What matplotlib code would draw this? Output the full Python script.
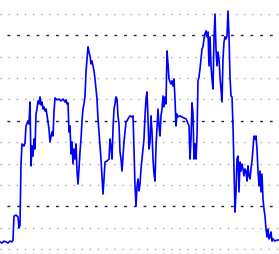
import numpy as np
import matplotlib
matplotlib.use("Agg")
import matplotlib.pyplot as plt

# sample positions and values (one unit = one grid step)
xs = [0, 2, 4, 6, 8, 10, 12, 13, 14, 16, 18, 19, 20, 21, 22, 24, 25, 26, 28, 29,
      30, 31, 32, 33, 34, 35, 36, 37, 38, 39, 40, 41, 42, 43, 44, 45, 46, 47, 48, 49,
      50, 51, 52, 53, 54, 55, 57, 59, 61, 63, 65, 66, 67, 68, 69, 70, 71, 72, 73, 74,
      75, 76, 77, 78, 79, 80, 81, 82, 83, 84, 85, 86, 87, 88, 89, 90, 91, 92, 93, 94,
      95, 96, 97, 98, 99, 100, 101, 102, 103, 104, 105, 107, 109, 110, 111, 112, 113, 114, 115, 116,
      117, 118, 119, 120, 121, 122, 123, 124, 125, 126, 127, 128, 130, 132, 133, 134, 135, 136, 137, 138,
      139, 140, 141, 142, 143, 144, 145, 146, 147, 148, 149, 150, 151, 152, 153, 154, 155, 156, 157, 158,
      159, 160, 161, 162, 163, 164, 165, 166, 167, 168, 169, 170, 171, 172, 173, 174, 175, 176, 177, 178,
      180, 182, 184, 186, 187, 189, 190, 191, 192, 193, 194, 195, 196, 197, 198, 199, 200, 201, 202, 203,
      204, 205, 206, 207, 208, 209, 210, 211, 212, 213, 214, 215, 216, 217, 218, 219, 220, 221, 222, 223,
      224, 225, 226, 227, 228, 229, 230, 231, 232, 233, 234, 235, 236, 237, 238, 239, 240, 241, 242, 243,
      244, 245, 246, 247, 248, 249, 250, 251, 252, 253, 254, 255, 256, 257, 258, 259, 260, 261, 262, 263,
      264, 265, 266, 267, 268, 269, 270, 271, 272, 273, 275, 277, 279]
vals = [0.33, 0.28, 0.37, 0.33, 0.28, 0.37, 0.33, 0.42, 1.54, 1.59, 1.50, 0.98, 1.12, 3.98, 4.92, 4.82, 4.96, 5.76, 5.99, 5.85,
        6.88, 3.89, 4.82, 4.35, 5.15, 4.68, 6.32, 6.55, 6.93, 6.79, 7.12, 6.74, 6.88, 6.55, 6.65, 6.46, 6.55, 6.27, 5.95, 5.62,
        5.01, 5.24, 5.48, 5.29, 6.41, 7.07, 6.98, 7.02, 6.93, 7.02, 6.88, 6.98, 6.79, 6.84, 5.48, 5.76, 4.45, 5.01, 3.98, 4.68,
        4.21, 4.92, 3.65, 3.04, 3.75, 4.54, 5.15, 5.99, 6.55, 6.79, 7.16, 8.29, 8.90, 9.46, 9.22, 9.04, 8.66, 8.80, 8.57, 8.33,
        7.96, 7.49, 7.02, 6.09, 5.48, 4.82, 4.21, 3.42, 2.57, 3.28, 4.07, 4.12, 4.21, 5.15, 4.78, 4.21, 5.62, 6.55, 6.79, 7.12,
        7.02, 6.23, 5.85, 4.54, 4.21, 3.65, 4.35, 5.01, 5.48, 5.95, 5.99, 6.09, 6.23, 6.18, 6.23, 4.68, 2.95, 2.01, 2.90, 3.28,
        2.72, 3.04, 3.75, 4.21, 4.68, 5.15, 6.23, 7.02, 7.35, 6.09, 4.68, 5.01, 6.23, 5.48, 4.21, 3.51, 3.18, 4.78, 5.71, 6.55,
        5.76, 5.29, 6.23, 6.55, 7.16, 6.65, 7.12, 6.79, 9.27, 8.66, 7.96, 7.82, 7.72, 7.87, 7.63, 7.96, 7.02, 5.76, 6.32, 6.18,
        6.23, 6.18, 6.13, 6.09, 5.99, 5.76, 4.21, 5.15, 6.84, 6.32, 4.21, 4.92, 4.21, 5.29, 7.87, 8.05, 8.43, 8.90, 9.36, 9.46,
        9.83, 10.07, 10.21, 9.93, 10.16, 8.57, 9.93, 8.57, 7.96, 7.49, 9.83, 11.00, 9.36, 8.57, 9.22, 8.90, 8.05, 7.49, 6.88, 8.90,
        9.69, 9.93, 9.83, 9.97, 11.14, 9.97, 8.05, 7.16, 7.12, 5.76, 3.75, 1.73, 2.67, 4.21, 4.35, 2.67, 4.07, 3.65, 3.98, 3.75,
        3.42, 3.75, 3.65, 3.18, 3.89, 3.42, 3.28, 3.75, 4.12, 4.68, 5.29, 5.15, 5.29, 4.68, 3.65, 2.95, 3.65, 2.67, 3.51, 2.34,
        1.87, 1.54, 0.94, 0.56, 0.94, 0.47, 0.56, 0.80, 0.37, 0.47, 0.37, 0.42, 0.42]

minor_levels = [0, 1, 3, 4, 5, 7, 8, 9, 11]
major_levels = [2, 6, 10]

fig = plt.figure(figsize=(2.79, 2.55), dpi=100)
ax = fig.add_axes([0, 0, 1, 1])

for lv in minor_levels:
    ax.axhline(lv, color="#8a9bb0", lw=0.9, ls=(0, (1, 5.5)), zorder=1)
for lv in major_levels:
    ax.axhline(lv, color="#222222", lw=1.0, ls=(2, (2, 5)), zorder=1)

ax.plot(xs, vals, color="#0000ff", lw=1.2, zorder=3)

ax.set_xlim(0, 279)
ax.set_ylim(-0.234, 11.70)
ax.axis("off")

fig.savefig("out.png", dpi=100, facecolor="white")
